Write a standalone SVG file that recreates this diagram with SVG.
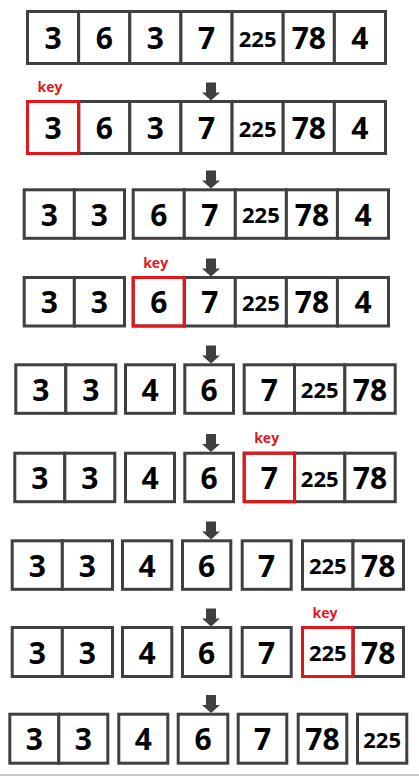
<svg xmlns="http://www.w3.org/2000/svg" width="419" height="776" viewBox="0 0 419 776">
<style>
.c{fill:#fff;stroke:#404040;stroke-width:3}
.k{fill:none;stroke:#e3161c;stroke-width:3}
.t{font-family:"Open Sans","Liberation Sans",sans-serif;font-weight:700;font-size:30px;fill:#000;text-anchor:middle}
.s{font-size:22px}
.kl{font-family:"Open Sans","Liberation Sans",sans-serif;font-weight:700;font-size:14px;fill:#e3161c}
</style>
<defs>
<path id="arr" d="M-5,-18 H5 V-8 H9 L0,0 L-9,-8 H-5 Z" fill="#404040"/>
</defs>
<rect x="0" y="774" width="419" height="2" fill="#c8c8c8"/>
<g id="connectors">
<use href="#arr" x="211" y="100.5"/>
<use href="#arr" x="211" y="188.5"/>
<use href="#arr" x="211" y="276.5"/>
<use href="#arr" x="211" y="363.5"/>
<use href="#arr" x="211" y="452"/>
<use href="#arr" x="211" y="539.5"/>
<use href="#arr" x="211" y="626.5"/>
<use href="#arr" x="211" y="713"/>
</g>
<g id="row1">
<g id="r1c1"><rect class="c" x="27.5" y="11.5" width="51.14" height="52"/><text class="t" x="53.07" y="49">3</text></g>
<g id="r1c2"><rect class="c" x="78.64" y="11.5" width="51.14" height="52"/><text class="t" x="104.21" y="49">6</text></g>
<g id="r1c3"><rect class="c" x="129.79" y="11.5" width="51.14" height="52"/><text class="t" x="155.36" y="49">3</text></g>
<g id="r1c4"><rect class="c" x="180.93" y="11.5" width="51.14" height="52"/><text class="t" x="206.5" y="49">7</text></g>
<g id="r1c5"><rect class="c" x="232.07" y="11.5" width="51.14" height="52"/><text class="t s" x="257.64" y="46.8">225</text></g>
<g id="r1c6"><rect class="c" x="283.21" y="11.5" width="51.14" height="52"/><text class="t" x="308.79" y="49">78</text></g>
<g id="r1c7"><rect class="c" x="334.36" y="11.5" width="51.14" height="52"/><text class="t" x="359.93" y="49">4</text></g>
</g>
<g id="row2">
<g id="r2c2"><rect class="c" x="78.64" y="101.5" width="51.14" height="52"/><text class="t" x="104.21" y="139">6</text></g>
<g id="r2c3"><rect class="c" x="129.79" y="101.5" width="51.14" height="52"/><text class="t" x="155.36" y="139">3</text></g>
<g id="r2c4"><rect class="c" x="180.93" y="101.5" width="51.14" height="52"/><text class="t" x="206.5" y="139">7</text></g>
<g id="r2c5"><rect class="c" x="232.07" y="101.5" width="51.14" height="52"/><text class="t s" x="257.64" y="136.8">225</text></g>
<g id="r2c6"><rect class="c" x="283.21" y="101.5" width="51.14" height="52"/><text class="t" x="308.79" y="139">78</text></g>
<g id="r2c7"><rect class="c" x="334.36" y="101.5" width="51.14" height="52"/><text class="t" x="359.93" y="139">4</text></g>
<g id="r2c1"><rect class="c" x="27.5" y="101.5" width="51.14" height="52"/><rect class="k" x="27.5" y="101.5" width="51.14" height="52"/><text class="t" x="53.07" y="139">3</text><text class="kl" x="37.5" y="91.5">key</text></g>
</g>
<g id="row3">
<g id="r3c1"><rect class="c" x="24.2" y="189.8" width="50.15" height="48.5"/><text class="t" x="49.28" y="225.5">3</text></g>
<g id="r3c2"><rect class="c" x="74.35" y="189.8" width="50.15" height="48.5"/><text class="t" x="99.43" y="225.5">3</text></g>
<g id="r3c3"><rect class="c" x="133.2" y="189.8" width="51.06" height="48.5"/><text class="t" x="158.73" y="225.5">6</text></g>
<g id="r3c4"><rect class="c" x="184.26" y="189.8" width="51.06" height="48.5"/><text class="t" x="209.79" y="225.5">7</text></g>
<g id="r3c5"><rect class="c" x="235.32" y="189.8" width="51.06" height="48.5"/><text class="t s" x="260.85" y="223.3">225</text></g>
<g id="r3c6"><rect class="c" x="286.38" y="189.8" width="51.06" height="48.5"/><text class="t" x="311.91" y="225.5">78</text></g>
<g id="r3c7"><rect class="c" x="337.44" y="189.8" width="51.06" height="48.5"/><text class="t" x="362.97" y="225.5">4</text></g>
</g>
<g id="row4">
<g id="r4c1"><rect class="c" x="24.2" y="277.5" width="50.15" height="48.5"/><text class="t" x="49.28" y="313">3</text></g>
<g id="r4c2"><rect class="c" x="74.35" y="277.5" width="50.15" height="48.5"/><text class="t" x="99.43" y="313">3</text></g>
<g id="r4c4"><rect class="c" x="184.26" y="277.5" width="51.06" height="48.5"/><text class="t" x="209.79" y="313">7</text></g>
<g id="r4c5"><rect class="c" x="235.32" y="277.5" width="51.06" height="48.5"/><text class="t s" x="260.85" y="310.8">225</text></g>
<g id="r4c6"><rect class="c" x="286.38" y="277.5" width="51.06" height="48.5"/><text class="t" x="311.91" y="313">78</text></g>
<g id="r4c7"><rect class="c" x="337.44" y="277.5" width="51.06" height="48.5"/><text class="t" x="362.97" y="313">4</text></g>
<g id="r4c3"><rect class="c" x="133.2" y="277.5" width="51.06" height="48.5"/><rect class="k" x="133.2" y="277.5" width="51.06" height="48.5"/><text class="t" x="158.73" y="313">6</text><text class="kl" x="143.2" y="267.5">key</text></g>
</g>
<g id="row5">
<g id="r5c1"><rect class="c" x="15.8" y="364.8" width="50" height="48.5"/><text class="t" x="40.8" y="400.5">3</text></g>
<g id="r5c2"><rect class="c" x="65.8" y="364.8" width="50" height="48.5"/><text class="t" x="90.8" y="400.5">3</text></g>
<g id="r5c3"><rect class="c" x="125.5" y="364.8" width="49" height="48.5"/><text class="t" x="150" y="400.5">4</text></g>
<g id="r5c4"><rect class="c" x="184.8" y="364.8" width="48.7" height="48.5"/><text class="t" x="209.15" y="400.5">6</text></g>
<g id="r5c5"><rect class="c" x="244.2" y="364.8" width="50.33" height="48.5"/><text class="t" x="269.37" y="400.5">7</text></g>
<g id="r5c6"><rect class="c" x="294.53" y="364.8" width="50.33" height="48.5"/><text class="t s" x="319.7" y="398.3">225</text></g>
<g id="r5c7"><rect class="c" x="344.87" y="364.8" width="50.33" height="48.5"/><text class="t" x="370.03" y="400.5">78</text></g>
</g>
<g id="row6">
<g id="r6c1"><rect class="c" x="14.8" y="453.2" width="50" height="48.5"/><text class="t" x="39.8" y="489">3</text></g>
<g id="r6c2"><rect class="c" x="64.8" y="453.2" width="50" height="48.5"/><text class="t" x="89.8" y="489">3</text></g>
<g id="r6c3"><rect class="c" x="125.5" y="453.2" width="49" height="48.5"/><text class="t" x="150" y="489">4</text></g>
<g id="r6c4"><rect class="c" x="184.8" y="453.2" width="48.7" height="48.5"/><text class="t" x="209.15" y="489">6</text></g>
<g id="r6c6"><rect class="c" x="294.53" y="453.2" width="50.33" height="48.5"/><text class="t s" x="319.7" y="486.8">225</text></g>
<g id="r6c7"><rect class="c" x="344.87" y="453.2" width="50.33" height="48.5"/><text class="t" x="370.03" y="489">78</text></g>
<g id="r6c5"><rect class="c" x="244.2" y="453.2" width="50.33" height="48.5"/><rect class="k" x="244.2" y="453.2" width="50.33" height="48.5"/><text class="t" x="269.37" y="489">7</text><text class="kl" x="254.2" y="443">key</text></g>
</g>
<g id="row7">
<g id="r7c1"><rect class="c" x="12.2" y="540.8" width="50.15" height="48.5"/><text class="t" x="37.28" y="576.5">3</text></g>
<g id="r7c2"><rect class="c" x="62.35" y="540.8" width="50.15" height="48.5"/><text class="t" x="87.43" y="576.5">3</text></g>
<g id="r7c3"><rect class="c" x="122.5" y="540.8" width="49.3" height="48.5"/><text class="t" x="147.15" y="576.5">4</text></g>
<g id="r7c4"><rect class="c" x="182.5" y="540.8" width="48.3" height="48.5"/><text class="t" x="206.65" y="576.5">6</text></g>
<g id="r7c5"><rect class="c" x="242.2" y="540.8" width="49" height="48.5"/><text class="t" x="266.7" y="576.5">7</text></g>
<g id="r7c6"><rect class="c" x="302.5" y="540.8" width="50.5" height="48.5"/><text class="t s" x="327.75" y="574.3">225</text></g>
<g id="r7c7"><rect class="c" x="353" y="540.8" width="50.5" height="48.5"/><text class="t" x="378.25" y="576.5">78</text></g>
</g>
<g id="row8">
<g id="r8c1"><rect class="c" x="12.2" y="627.5" width="50.15" height="49"/><text class="t" x="37.28" y="663.5">3</text></g>
<g id="r8c2"><rect class="c" x="62.35" y="627.5" width="50.15" height="49"/><text class="t" x="87.43" y="663.5">3</text></g>
<g id="r8c3"><rect class="c" x="122.5" y="627.5" width="49.3" height="49"/><text class="t" x="147.15" y="663.5">4</text></g>
<g id="r8c4"><rect class="c" x="182.5" y="627.5" width="48.3" height="49"/><text class="t" x="206.65" y="663.5">6</text></g>
<g id="r8c5"><rect class="c" x="242.2" y="627.5" width="49" height="49"/><text class="t" x="266.7" y="663.5">7</text></g>
<g id="r8c7"><rect class="c" x="353" y="627.5" width="50.5" height="49"/><text class="t" x="378.25" y="663.5">78</text></g>
<g id="r8c6"><rect class="c" x="302.5" y="627.5" width="50.5" height="49"/><rect class="k" x="302.5" y="627.5" width="50.5" height="49"/><text class="t s" x="327.75" y="661.3">225</text><text class="kl" x="312.5" y="617.5">key</text></g>
</g>
<g id="row9">
<g id="r9c1"><rect class="c" x="9.8" y="714.2" width="49" height="49"/><text class="t" x="34.3" y="750">3</text></g>
<g id="r9c2"><rect class="c" x="58.8" y="714.2" width="49" height="49"/><text class="t" x="83.3" y="750">3</text></g>
<g id="r9c3"><rect class="c" x="118.8" y="714.2" width="49" height="49"/><text class="t" x="143.3" y="750">4</text></g>
<g id="r9c4"><rect class="c" x="178.2" y="714.2" width="49.6" height="49"/><text class="t" x="203" y="750">6</text></g>
<g id="r9c5"><rect class="c" x="238.2" y="714.2" width="48.6" height="49"/><text class="t" x="262.5" y="750">7</text></g>
<g id="r9c6"><rect class="c" x="298.2" y="714.2" width="48.6" height="49"/><text class="t" x="322.5" y="750">78</text></g>
<g id="r9c7"><rect class="c" x="357.5" y="714.2" width="49.3" height="49"/><text class="t s" x="382.15" y="747.8">225</text></g>
</g>
</svg>
